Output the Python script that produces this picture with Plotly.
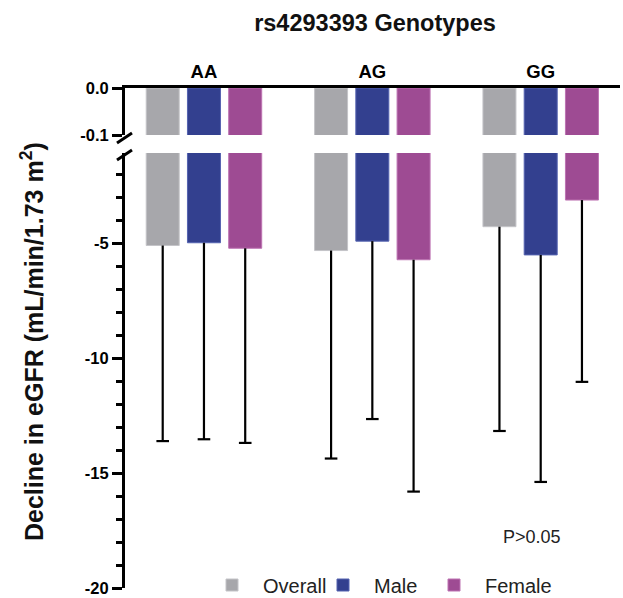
import plotly.graph_objects as go

# ---- data ----
genotypes = ["AA", "AG", "GG"]
series = ["Overall", "Male", "Female"]
mean_overall = [-5.08, -5.30, -4.26]
mean_male = [-4.96, -4.89, -5.49]
mean_female = [-5.20, -5.70, -3.10]
low_overall = [-13.6, -14.36, -13.16]
low_male = [-13.52, -12.64, -15.38]
low_female = [-13.68, -15.80, -11.02]
colors = ["#A7A7AB", "#33408F", "#9E4B93"]
edge_colors = ["#C4C4C8", "#5563B0", "#BD73B2"]

means = [mean_overall, mean_male, mean_female]
lows = [low_overall, low_male, low_female]

offsets = [-0.245, 0.0, 0.245]
bar_w = 0.196
FONT = "Liberation Sans, Arial, sans-serif"

fig = go.Figure()
for k, name in enumerate(series):
    xs = [i + offsets[k] for i in range(len(genotypes))]
    fig.add_trace(go.Bar(x=xs, y=means[k], width=bar_w, name=name,
                         marker=dict(color=colors[k], line=dict(color=edge_colors[k], width=1)),
                         xaxis="x", yaxis="y", showlegend=True))
    fig.add_trace(go.Bar(x=xs, y=means[k], width=bar_w, name=name,
                         marker=dict(color=colors[k], line=dict(color=edge_colors[k], width=1)),
                         xaxis="x2", yaxis="y2", showlegend=False))
# invisible spacer entry so the last legend label is not clipped
fig.add_trace(go.Bar(x=[None], y=[None], name=" ",
                     marker=dict(color="rgba(0,0,0,0)", line=dict(width=0, color="rgba(0,0,0,0)")),
                     xaxis="x", yaxis="y", showlegend=True, hoverinfo="skip"))
for k, name in enumerate(series):
    xs = [i + offsets[k] for i in range(len(genotypes))]
    up = [m - l for m, l in zip(means[k], lows[k])]
    fig.add_trace(go.Scatter(x=xs, y=lows[k], mode="markers",
                             marker=dict(symbol="line-ew", size=9,
                                         line=dict(color="black", width=2.2)),
                             error_y=dict(type="data", symmetric=False, array=up,
                                          arrayminus=[0] * len(up), width=0,
                                          thickness=2.2, color="black"),
                             xaxis="x", yaxis="y", showlegend=False, hoverinfo="skip"))

# plot-area geometry (pixels)
L, R, T, B = 125, 620, 88, 588
H = B - T
W = R - L
def px(x):
    return (x - L) / W
def py(y):
    return (B - y) / H

xr = [-0.469, 2.471]
fig.update_layout(
    width=623, height=598,
    margin=dict(l=L, r=623 - R, t=T, b=598 - B, autoexpand=False),
    paper_bgcolor="white", plot_bgcolor="white",
    barmode="overlay",
    font=dict(family=FONT, color="black"),
    title=dict(text="<b>rs4293393 Genotypes</b>", x=375 / 623,
               xanchor="center", y=1 - 23 / 598, yanchor="middle",
               font=dict(size=23.5, family=FONT, color="#111")),
    xaxis=dict(domain=[0, 1], range=xr, anchor="y", showline=False, showticklabels=False,
               ticks="", showgrid=False, zeroline=False),
    xaxis2=dict(domain=[0, 1], range=xr, anchor="y2", side="top", showline=True,
                linewidth=3, linecolor="black", tickvals=list(range(len(genotypes))),
                ticktext=["<b>%s</b>" % g for g in genotypes], ticks="",
                tickfont=dict(size=18.5, family=FONT), showgrid=False, zeroline=False),
    yaxis=dict(domain=[0, py(153)], range=[-20, -1.05], anchor="x",
               showline=True, linewidth=3, linecolor="black",
               tickvals=[-5, -10, -15, -20], ticktext=["<b>-5</b>", "<b>-10</b>", "<b>-15</b>", "<b>-20</b>"],
               ticks="outside", ticklen=10, tickwidth=3, tickcolor="black",
               minor=dict(dtick=1, tick0=0, ticks="outside", ticklen=6, tickwidth=2.5, tickcolor="black"),
               tickfont=dict(size=16.5, family=FONT), showgrid=False, zeroline=False),
    yaxis2=dict(domain=[py(135), 1], range=[-0.1, 0], anchor="x2",
                showline=True, linewidth=3, linecolor="black",
                tickvals=[0, -0.1], ticktext=["<b>0.0</b>", "<b>-0.1</b>"],
                ticks="outside", ticklen=10, tickwidth=3, tickcolor="black",
                tickfont=dict(size=16.5, family=FONT), showgrid=False, zeroline=False),
    legend=dict(orientation="h", x=px(201), y=py(585), xanchor="left", yanchor="middle",
                font=dict(size=20, family=FONT, color="#222"), bgcolor="rgba(0,0,0,0)",
                itemwidth=52, entrywidth=44, entrywidthmode="pixels", traceorder="normal"),
    showlegend=True,
)

fig.add_annotation(text="<b>Decline in eGFR (mL/min/1.73 m<sup>2</sup>)</b>",
                   xref="paper", yref="paper", x=px(32), y=py(342), textangle=-90,
                   showarrow=False, xanchor="center", yanchor="middle",
                   font=dict(size=25, family=FONT, color="#111"))
fig.add_annotation(text="P>0.05", xref="paper", yref="paper", x=px(532), y=py(537),
                   showarrow=False, xanchor="center", yanchor="middle",
                   font=dict(size=18, family=FONT, color="#222"))

for (x0, y0, x1, y1) in [(117, 143, 132, 133), (117, 160, 132, 150)]:
    fig.add_shape(type="line", xref="paper", yref="paper",
                  x0=px(x0), y0=py(y0), x1=px(x1), y1=py(y1),
                  line=dict(color="black", width=3))

fig.write_html("out.html", config={"displayModeBar": False},
               post_script="document.body.style.margin='0';")
